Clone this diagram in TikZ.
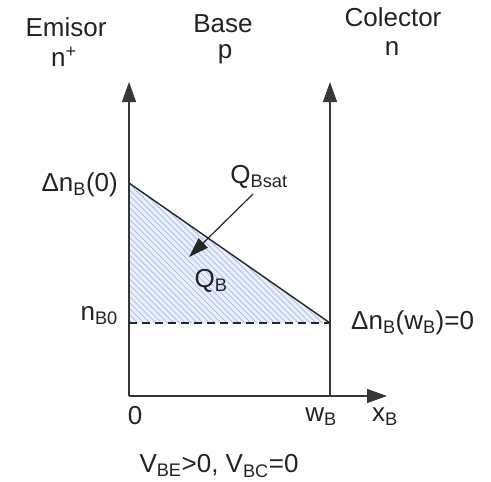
\documentclass[tikz,border=0pt]{standalone}
\usepackage{fontspec}
\setmainfont{Liberation Sans}
\usetikzlibrary{arrows.meta,patterns.meta}
\definecolor{axisgray}{RGB}{55,55,55}
\definecolor{hatchfill}{RGB}{232,239,251}
\definecolor{hatchline}{RGB}{165,188,228}
\definecolor{txtgray}{RGB}{35,35,35}
\tikzset{
  lbl/.style={font=\fontsize{26}{30}\selectfont, text=txtgray, inner sep=0pt},
  axisline/.style={draw=axisgray, line width=1.4pt, -{Triangle[length=20pt,width=14pt]}},
  curveline/.style={draw=black!85, line width=1.4pt},
  dashline/.style={draw=black!85, line width=1.2pt, dash pattern=on 8pt off 5pt},
  pointer/.style={draw=black!85, line width=1.2pt, -{Triangle[length=20pt,width=13pt]}}
}
\begin{document}
\begin{tikzpicture}[x=1pt,y=-1pt]
\useasboundingbox (0,0) rectangle (491,482);
% coordinates
\coordinate (O) at (129,396);
\coordinate (Ytop) at (129,82);
\coordinate (W) at (330,396);
\coordinate (Wtop) at (330,82);
\coordinate (Xend) at (387,396);
\coordinate (P0) at (129,183);
\coordinate (PW) at (330,323);
\coordinate (N0) at (129,323);
\coordinate (Astart) at (253,194);
\coordinate (Atip) at (189,257);
% shaded area
\fill[hatchfill] (P0) -- (PW) -- (N0) -- cycle;
\fill[pattern={Lines[angle=-45,distance=4.2pt,line width=0.7pt]}, pattern color=hatchline] (P0) -- (PW) -- (N0) -- cycle;
% axes
\draw[axisline] (O) -- (Ytop);
\draw[axisline] (W) -- (Wtop);
\draw[axisline] (O) -- (Xend);
% curve and dashed line
\draw[curveline] (P0) -- (PW);
\draw[dashline] (N0) -- (PW);
\draw[pointer] (Astart) -- (Atip);
% labels
\node[lbl] (emisor) at (66,27) {Emisor};
\node[lbl] (nplus) at (64,57) {n\textsuperscript{+}};
\node[lbl] (base) at (223,24) {Base};
\node[lbl] (p) at (225,54) {p};
\node[lbl] (colector) at (393,17) {Colector};
\node[lbl] (n) at (392,49) {n};
\node[lbl, anchor=east] (dn0) at (118,185) {Δn\textsubscript{B}(0)};
\node[lbl] (qbsat) at (259,177) {Q\textsubscript{Bsat}};
\node[lbl] (qb) at (211,281) {Q\textsubscript{B}};
\node[lbl, anchor=east] (nb0) at (118,316) {n\textsubscript{B0}};
\node[lbl, anchor=west] (dnw) at (351,323) {Δn\textsubscript{B}(w\textsubscript{B})=0};
\node[lbl] (zero) at (135,416) {0};
\node[lbl] (wb) at (321,417) {w\textsubscript{B}};
\node[lbl] (xb) at (385,417) {x\textsubscript{B}};
\node[lbl] (cond) at (219,466) {V\textsubscript{BE}>0, V\textsubscript{BC}=0};
\end{tikzpicture}
\end{document}
